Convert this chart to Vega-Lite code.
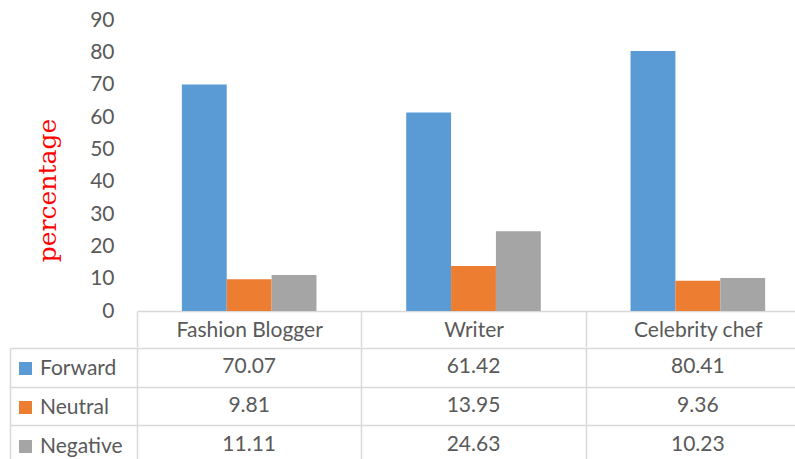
{
  "$schema": "https://vega.github.io/schema/vega-lite/v6.json",
  "padding": {"left": 9, "top": 9, "right": 0, "bottom": 0},
  "background": "white",
  "data": {"values": [
    {"category": "Fashion Blogger", "series": "Forward", "value": 70.07},
    {"category": "Fashion Blogger", "series": "Neutral", "value": 9.81},
    {"category": "Fashion Blogger", "series": "Negative", "value": 11.11},
    {"category": "Writer", "series": "Forward", "value": 61.42},
    {"category": "Writer", "series": "Neutral", "value": 13.95},
    {"category": "Writer", "series": "Negative", "value": 24.63},
    {"category": "Celebrity chef", "series": "Forward", "value": 80.41},
    {"category": "Celebrity chef", "series": "Neutral", "value": 9.36},
    {"category": "Celebrity chef", "series": "Negative", "value": 10.23}
  ]},
  "config": {"view": {"stroke": null}, "font": "Lato"},
  "bounds": "flush",
  "spacing": 37,
  "resolve": {"scale": {"x": "independent", "y": "independent"}},
  "vconcat": [
    {
      "width": 658,
      "height": 291,
      "mark": {"type": "bar"},
      "encoding": {
        "x": {
          "field": "category", "type": "nominal",
          "sort": ["Fashion Blogger", "Writer", "Celebrity chef"],
          "scale": {"range": [0, 673], "paddingInner": 0, "paddingOuter": 0},
          "axis": {
            "title": null, "labelAngle": 0, "labelFontSize": 21, "labelColor": "#595959",
            "labelFont": "Lato", "labelPadding": -17, "labelBaseline": "middle",
            "tickBand": "extent", "tickSize": 36, "tickColor": "#D9D9D9", "tickWidth": 1.5,
            "domainColor": "#D9D9D9", "domainWidth": 1.5, "grid": false
          }
        },
        "xOffset": {
          "field": "series", "type": "nominal",
          "sort": ["Forward", "Neutral", "Negative"],
          "scale": {"paddingInner": 0, "paddingOuter": 1}
        },
        "y": {
          "field": "value", "type": "quantitative",
          "scale": {"domain": [0, 90], "nice": false},
          "axis": {
            "values": [0, 10, 20, 30, 40, 50, 60, 70, 80, 90],
            "grid": false, "domain": false, "ticks": false, "tickSize": 0,
            "labelPadding": 23, "labelFontSize": 21, "labelColor": "#595959", "labelFont": "Lato",
            "title": "percentage", "titleColor": "#FF0000", "titleFont": "DejaVu Serif",
            "titleFontSize": 25, "titleFontWeight": "normal", "titleAngle": -90,
            "titleX": -82, "titleY": 170, "titleAlign": "center", "titleBaseline": "alphabetic"
          }
        },
        "color": {
          "field": "series", "type": "nominal",
          "sort": ["Forward", "Neutral", "Negative"],
          "scale": {"domain": ["Forward", "Neutral", "Negative"], "range": ["#5B9BD5", "#ED7D31", "#A5A5A5"]},
          "legend": {
            "orient": "none", "legendX": -122, "legendY": 338, "title": null,
            "symbolType": "square", "symbolSize": 169, "symbolStrokeWidth": 0,
            "labelFontSize": 21, "labelColor": "#595959", "labelFont": "Lato",
            "labelOffset": 4, "rowPadding": 17
          }
        }
      }
    },
    {
      "width": 658,
      "height": 111,
      "mark": {"type": "text", "fontSize": 21, "color": "#595959", "font": "Lato", "baseline": "middle", "align": "center"},
      "encoding": {
        "x": {
          "field": "category", "type": "nominal",
          "sort": ["Fashion Blogger", "Writer", "Celebrity chef"],
          "scale": {"range": [0, 673], "paddingInner": 0, "paddingOuter": 0},
          "axis": {
            "title": null, "labels": false, "ticks": false, "domain": false,
            "grid": true, "gridColor": "#D9D9D9", "gridWidth": 1.5, "tickBand": "extent", "orient": "top"
          }
        },
        "y": {
          "field": "series", "type": "nominal",
          "sort": ["Forward", "Neutral", "Negative"],
          "scale": {"range": [0, 116], "paddingInner": 0, "paddingOuter": 0},
          "axis": {
            "title": null, "labels": false, "grid": true, "gridColor": "#D9D9D9", "gridWidth": 1.5,
            "tickBand": "extent", "ticks": true, "tickSize": -127, "tickColor": "#D9D9D9", "tickWidth": 1.5,
            "offset": 127, "domain": true, "domainColor": "#D9D9D9", "domainWidth": 1.5
          }
        },
        "text": {"field": "value", "type": "quantitative", "format": ".2f"}
      }
    }
  ]
}
